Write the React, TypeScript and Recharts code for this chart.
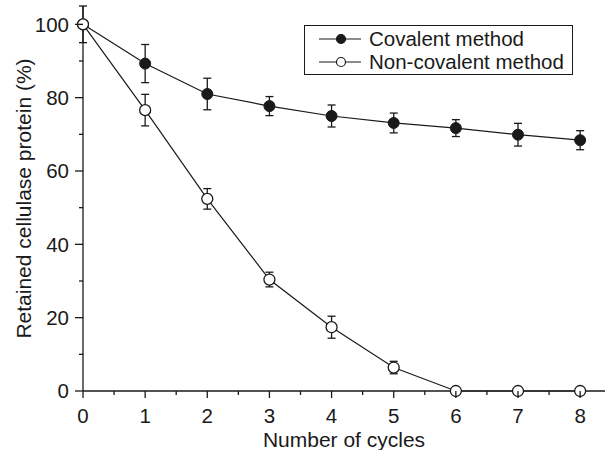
import { LineChart, Line, XAxis, YAxis, ErrorBar, Legend } from "recharts";

const cycles = [0, 1, 2, 3, 4, 5, 6, 7, 8];
const covalent = [100, 89.3, 81.0, 77.7, 75.0, 73.1, 71.7, 69.9, 68.4];
const covalentErr = [5, 5.2, 4.3, 2.6, 3.0, 2.7, 2.3, 3.1, 2.6];
const nonCovalent = [100, 76.6, 52.4, 30.4, 17.4, 6.4, 0, 0, 0];
const nonCovalentErr = [0, 4.3, 2.8, 2.0, 3.0, 1.7, 0, 0, 0];

const xTicks = [0, 0.5, 1, 1.5, 2, 2.5, 3, 3.5, 4, 4.5, 5, 5.5, 6, 6.5, 7, 7.5, 8];
const yTicks = [0, 10, 20, 30, 40, 50, 60, 70, 80, 90, 100];

const data = cycles.map((c, i) => ({
    cycle: c,
    covalent: covalent[i],
    covalentErr: covalentErr[i],
    nonCovalent: nonCovalent[i],
    nonCovalentErr: nonCovalentErr[i],
}));

const FONT = "'Liberation Sans', Arial, Helvetica, sans-serif";
const INK = "#1a1a1a";

const XTick = (props: any) => {
    const { x, y, payload } = props;
    const major = Number.isInteger(payload.value);
    return (
        <g>
            <line x1={x} y1={y} x2={x} y2={y + (major ? 7 : 4)} stroke={INK} strokeWidth={1.3} />
            {major && (
                <text x={x} y={y + 32} textAnchor="middle" fontSize={20.5} fill={INK} fontFamily={FONT}>
                    {payload.value}
                </text>
            )}
        </g>
    );
};

const YTick = (props: any) => {
    const { x, y, payload } = props;
    const major = payload.value % 20 === 0;
    return (
        <g>
            <line x1={x} y1={y} x2={x - (major ? 8 : 4)} y2={y} stroke={INK} strokeWidth={1.3} />
            {major && (
                <text x={x - 14} y={y} dy="0.36em" textAnchor="end" fontSize={20.5} fill={INK} fontFamily={FONT}>
                    {payload.value}
                </text>
            )}
        </g>
    );
};

const YLabel = (props: any) => {
    const vb = props.viewBox || { x: 0, y: 0, width: 0, height: 0 };
    const cx = 31;
    const cy = vb.y + vb.height / 2;
    return (
        <text x={cx} y={cy} transform={`rotate(-90, ${cx}, ${cy})`} textAnchor="middle" fontSize={21} fill={INK} fontFamily={FONT}>
            Retained cellulase protein (%)
        </text>
    );
};

const LegendBox = () => (
    <div
        style={{
            border: `1.3px solid ${INK}`,
            width: 267,
            padding: "1px 0",
            fontFamily: FONT,
            fontSize: 20.5,
            color: INK,
            background: "#fff",
        }}
    >
        {[
            { label: "Covalent method", fill: INK },
            { label: "Non-covalent method", fill: "#fff" },
        ].map((it) => (
            <div key={it.label} style={{ display: "flex", alignItems: "center", height: 23 }}>
                <svg width={64} height={14}>
                    <line x1={14} y1={7} x2={56} y2={7} stroke={INK} strokeWidth={1.2} />
                    <circle cx={36} cy={7} r={4.5} fill={it.fill} stroke={INK} strokeWidth={1.2} />
                </svg>
                <span style={{ lineHeight: "23px", whiteSpace: "nowrap" }}>{it.label}</span>
            </div>
        ))}
    </div>
);

export default function App() {
    return (
        <div style={{ position: "absolute", left: 0, top: 0, width: 605, height: 450, background: "#fff" }}>
            <LineChart width={605} height={450} data={data} margin={{ top: 6, right: 0, left: 23, bottom: 0 }}>
                <XAxis
                    dataKey="cycle"
                    type="number"
                    domain={[0, 8.4]}
                    ticks={xTicks}
                    interval={0}
                    height={59}
                    tickSize={0}
                    tickMargin={0}
                    tick={<XTick />}
                    axisLine={{ stroke: INK, strokeWidth: 1.3 }}
                    label={{ value: "Number of cycles", position: "insideBottom", offset: 3, fontSize: 21, fill: INK, fontFamily: FONT }}
                />
                <YAxis
                    type="number"
                    domain={[0, 105]}
                    ticks={yTicks}
                    interval={0}
                    width={60}
                    tickSize={0}
                    tickMargin={0}
                    tick={<YTick />}
                    axisLine={{ stroke: INK, strokeWidth: 1.3 }}
                    label={<YLabel />}
                />
                <Legend
                    verticalAlign="middle"
                    align="center"
                    layout="horizontal"
                    content={<LegendBox />}
                    wrapperStyle={{ position: "absolute", top: 25, left: 304, width: 270, bottom: "auto", right: "auto" }}
                />
                <Line
                    dataKey="covalent"
                    stroke={INK}
                    strokeWidth={1.2}
                    isAnimationActive={false}
                    dot={{ r: 5.5, fill: INK, stroke: INK, strokeWidth: 1 }}
                    activeDot={false}
                >
                    <ErrorBar dataKey="covalentErr" width={4} stroke={INK} strokeWidth={1.3} direction="y" />
                </Line>
                <Line
                    dataKey="nonCovalent"
                    stroke={INK}
                    strokeWidth={1.2}
                    isAnimationActive={false}
                    dot={{ r: 5.5, fill: "#fff", stroke: INK, strokeWidth: 1.3 }}
                    activeDot={false}
                >
                    <ErrorBar dataKey="nonCovalentErr" width={4} stroke={INK} strokeWidth={1.3} direction="y" />
                </Line>
            </LineChart>
        </div>
    );
}
